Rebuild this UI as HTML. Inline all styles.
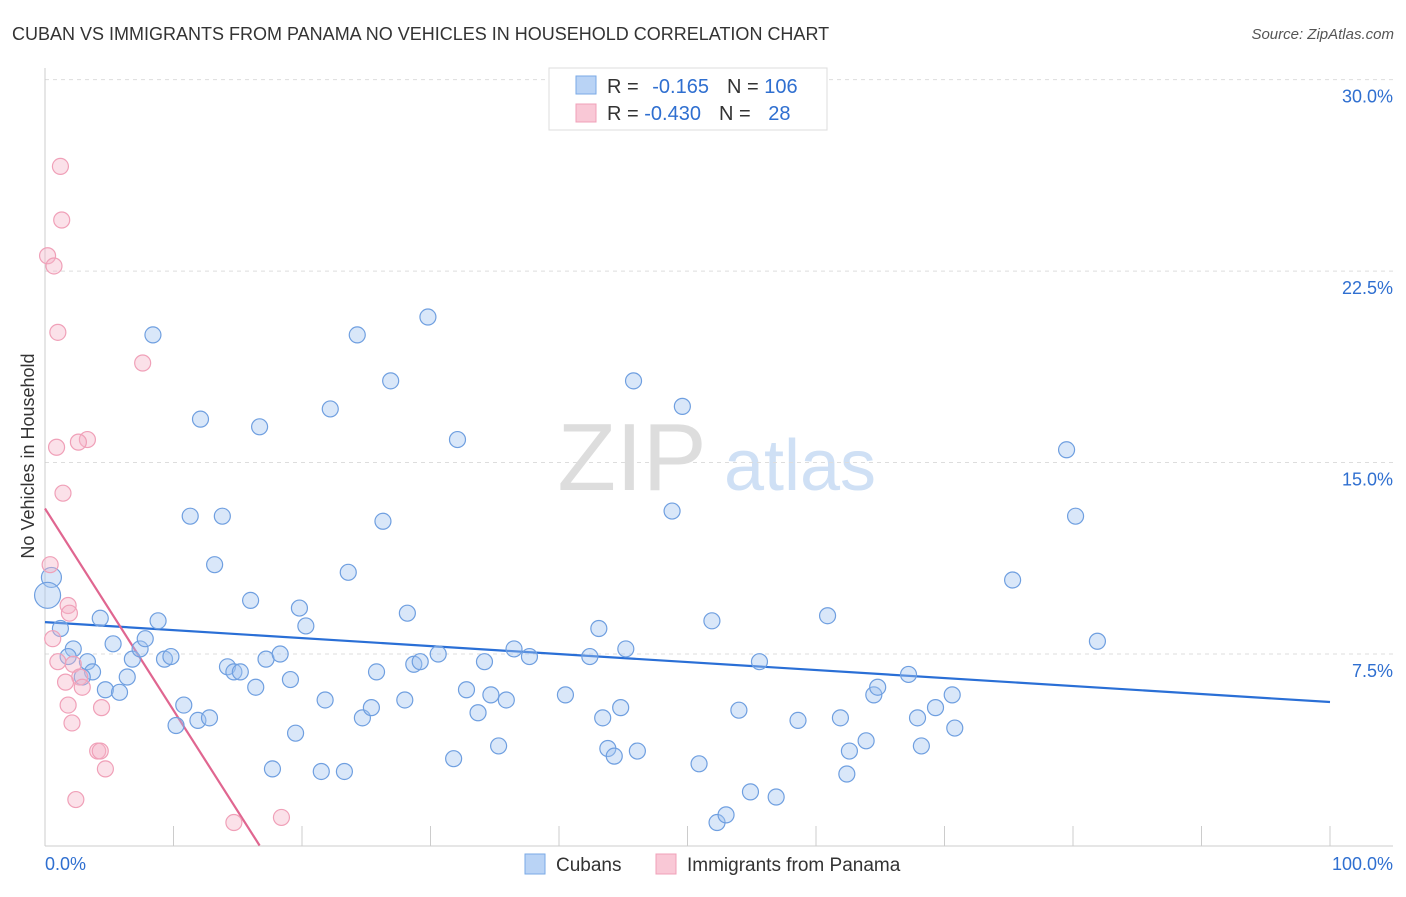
<!DOCTYPE html>
<html><head><meta charset="utf-8"><style>
body{margin:0;background:#fff;font-family:"Liberation Sans",sans-serif;}
svg text{font-family:"Liberation Sans",sans-serif;}
</style></head><body>
<svg id="chart" width="1406" height="892" viewBox="0 0 1406 892" xmlns="http://www.w3.org/2000/svg">
<text x="12" y="40" font-size="18" fill="#333">CUBAN VS IMMIGRANTS FROM PANAMA NO VEHICLES IN HOUSEHOLD CORRELATION CHART</text>
<text x="1394" y="39" font-size="15" fill="#555" font-style="italic" text-anchor="end">Source: ZipAtlas.com</text>
<g>
<text x="632" y="490" font-size="96" fill="#ddd" font-family="Liberation Serif" text-anchor="middle">ZIP</text>
<text x="800" y="490" font-size="72" fill="#cfe0f5" text-anchor="middle">atlas</text>
</g>
<g id="grid"></g>
<g id="axes"></g>
<g id="trend"></g>
<g id="points"></g>
<text transform="translate(34,456) rotate(-90)" font-size="18" fill="#333" text-anchor="middle">No Vehicles in Household</text>
<g>
<rect x="549" y="68" width="278" height="62" fill="#fff" stroke="#ddd"/>
<rect x="576" y="76" width="20" height="18" fill="#b9d3f5" stroke="#7aa9e6"/>
<rect x="576" y="104" width="20" height="18" fill="#f9c8d6" stroke="#f0a0b8"/>
<text x="607" y="93" font-size="20" fill="#333">R = <tspan fill="#2f6fd0" dx="8">-0.165</tspan><tspan fill="#333" dx="18">N = </tspan><tspan fill="#2f6fd0">106</tspan></text>
<text x="607" y="120" font-size="20" fill="#333">R = <tspan fill="#2f6fd0">-0.430</tspan><tspan fill="#333" dx="18">N = </tspan><tspan fill="#2f6fd0" dx="12">28</tspan></text>
</g>
<g>
<rect x="525" y="854" width="20" height="20" fill="#b9d3f5" stroke="#7aa9e6"/>
<text x="556" y="871" font-size="19" fill="#333">Cubans</text>
<rect x="656" y="854" width="20" height="20" fill="#f9c8d6" stroke="#f0a0b8"/>
<text x="687" y="871" font-size="19" fill="#333">Immigrants from Panama</text>
</g>
</svg>
<script>
const yTicks=[7.5,15,22.5,30];
const yTickLabels=["7.5%","15.0%","22.5%","30.0%"];
const xTicks=[0,10,20,30,40,50,60,70,80,90,100];
const cubanX=[0.5,0.2,1.2,4.3,2.2,1.8,3.3,3.7,2.9,5.3,4.7,5.8,6.4,6.8,7.4,7.8,8.4,8.8,9.3,9.8,10.8,10.2,11.3,12.1,11.9,12.8,13.2,13.8,14.2,14.7,15.2,16.0,16.4,16.7,17.2,18.3,19.1,19.5,17.7,19.8,20.3,21.5,21.8,22.2,23.3,23.6,24.3,24.7,25.4,25.8,26.3,26.9,28.0,28.2,28.7,29.2,29.8,30.6,31.8,32.1,32.8,33.7,34.2,34.7,35.3,35.9,36.5,37.7,40.5,42.4,43.1,43.4,43.8,44.3,44.8,45.2,46.1,45.8,48.8,49.6,50.9,51.9,52.3,53.0,54.0,54.9,55.6,56.9,58.6,60.9,61.9,62.4,62.6,63.9,64.5,64.8,67.2,67.9,68.2,69.3,70.6,70.8,75.3,79.5,80.2,81.9];
const cubanY=[10.5,9.8,8.5,8.9,7.7,7.4,7.2,6.8,6.6,7.9,6.1,6.0,6.6,7.3,7.7,8.1,20.0,8.8,7.3,7.4,5.5,4.7,12.9,16.7,4.9,5.0,11.0,12.9,7.0,6.8,6.8,9.6,6.2,16.4,7.3,7.5,6.5,4.4,3.0,9.3,8.6,2.9,5.7,17.1,2.9,10.7,20.0,5.0,5.4,6.8,12.7,18.2,5.7,9.1,7.1,7.2,20.7,7.5,3.4,15.9,6.1,5.2,7.2,5.9,3.9,5.7,7.7,7.4,5.9,7.4,8.5,5.0,3.8,3.5,5.4,7.7,3.7,18.2,13.1,17.2,3.2,8.8,0.9,1.2,5.3,2.1,7.2,1.9,4.9,9.0,5.0,2.8,3.7,4.1,5.9,6.2,6.7,5.0,3.9,5.4,5.9,4.6,10.4,15.5,12.9,8.0];
const panamaX=[1.2,1.3,0.2,0.7,1.0,7.6,3.3,2.6,0.9,1.4,0.4,0.6,1.8,1.9,1.0,2.2,2.7,1.6,2.9,1.8,2.1,4.4,4.1,4.3,4.7,2.4,14.7,18.4];
const panamaY=[26.6,24.5,23.1,22.7,20.1,18.9,15.9,15.8,15.6,13.8,11.0,8.1,9.4,9.1,7.2,7.1,6.6,6.4,6.2,5.5,4.8,5.4,3.7,3.7,3.0,1.8,0.9,1.1];
const cubanTrend=[8.75,5.62];
const panamaTrend=[13.2,0,16.7];
const NS="http://www.w3.org/2000/svg";
const sx=v=>45+v*12.85, sy=v=>845.5-v*25.53;
function mk(parent,tag,attrs){const e=document.createElementNS(NS,tag);for(const k in attrs)e.setAttribute(k,attrs[k]);parent.appendChild(e);return e;}
const grid=document.getElementById('grid'),axes=document.getElementById('axes'),pts=document.getElementById('points'),tr=document.getElementById('trend');
yTicks.forEach((t,i)=>{
 const l=mk(grid,'line',{x1:45,x2:1393,y1:sy(t),y2:sy(t),stroke:'#ddd','stroke-dasharray':'4,4'});
 
 
 const tx=mk(axes,'text',{x:1393,y:sy(t)+23,'font-size':18,fill:'#2f6fd0','text-anchor':'end'});tx.textContent=yTickLabels[i];
 
 
});
const la=mk(axes,'line',{x1:45,x2:45,y1:68,y2:846,stroke:'#ccc'});


const ba=mk(axes,'line',{x1:45,x2:1393,y1:846,y2:846,stroke:'#ccc'});


xTicks.forEach(t=>{const l=mk(axes,'line',{x1:sx(t),x2:sx(t),y1:826,y2:846,stroke:'#ccc'});
 
 });
const x0=mk(axes,'text',{x:45,y:870,'font-size':18,fill:'#2f6fd0'});x0.textContent='0.0%';


const x1=mk(axes,'text',{x:1393,y:870,'font-size':18,fill:'#2f6fd0','text-anchor':'end'});x1.textContent='100.0%';


cubanX.forEach((x,i)=>{const c=mk(pts,'circle',{cx:sx(x),cy:sy(cubanY[i]),r:i<2?(i==1?13:10):8,fill:'rgba(160,196,240,0.4)',stroke:'#6f9fe0','stroke-width':1.2});
 
 });
panamaX.forEach((x,i)=>{const c=mk(pts,'circle',{cx:sx(x),cy:sy(panamaY[i]),r:8,fill:'rgba(245,180,200,0.4)',stroke:'#f0a0b8','stroke-width':1.2});
 
 });
const t1=mk(tr,'line',{x1:sx(0),y1:sy(cubanTrend[0]),x2:sx(100),y2:sy(cubanTrend[1]),stroke:'#2a6fd6','stroke-width':2.2});


const t2=mk(tr,'line',{x1:sx(0),y1:sy(panamaTrend[0]),x2:sx(panamaTrend[2]),y2:sy(panamaTrend[1]),stroke:'#e06690','stroke-width':2.2});


</script>
</body></html>
